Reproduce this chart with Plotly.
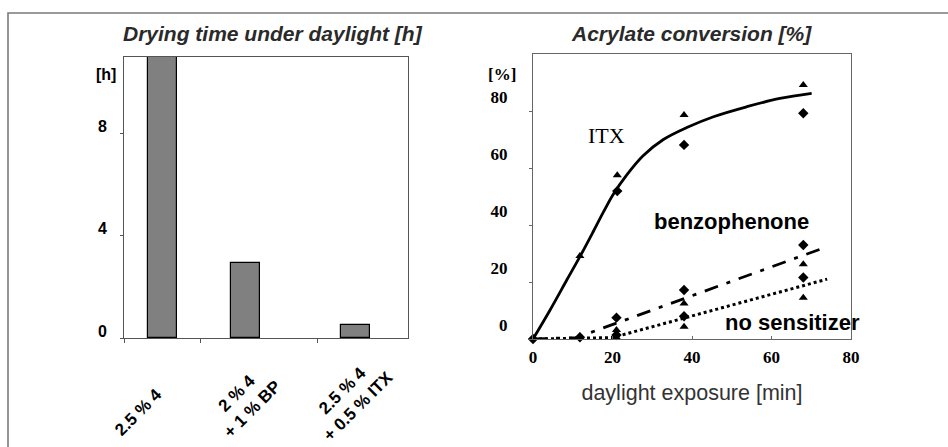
import plotly.graph_objects as go

# ---------------- data ----------------
# left: drying time under daylight [h]
bar_labels = ["2.5 % 4", "2 % 4<br>+ 1 % BP", "2.5 % 4<br>+ 0.5 % ITX"]
bar_pos = [1.36, 4.28, 8.15]
bar_hours = [11.0, 2.95, 0.5]
label_pos = [0.49, 4.23, 7.96]
label_ypx = [412, 401, 398]
left_yticks = [0, 4, 8]

# right: acrylate conversion [%]
itx_x_tri = [11.8, 21.2, 38, 68]
itx_y_tri = [29.1, 57.5, 78.6, 89.1]
itx_x_dia = [0, 21.2, 38, 68]
itx_y_dia = [0, 51.9, 68.1, 79.2]
itx_fit_x = [0, 4.3, 8.5, 11.8, 15.2, 17.7, 20.2, 23.6, 27.7, 32.8, 38.7, 45.4, 53.8, 62.1, 70.1]
itx_fit_y = [0, 10.2, 20.7, 28.9, 37.8, 44.5, 50.8, 57.6, 64.3, 70.0, 74.2, 78, 81.5, 84.4, 86.2]

bp_x_dia = [21, 38, 68]
bp_y_dia = [7.5, 17.2, 33]
bp_x_tri = [11.8, 21, 38, 68]
bp_y_tri = [1, 3.2, 12.5, 26.2]
bp_fit_x = [0, 11, 74]
bp_fit_y = [0, 0.5, 32.4]

ns_x_dia = [11.8, 21, 38, 68]
ns_y_dia = [0.6, 1.4, 8, 21.6]
ns_x_tri = [21, 38, 68]
ns_y_tri = [0.5, 4.3, 14.5]
ns_fit_x = [0, 20, 74]
ns_fit_y = [0, 0.5, 21]

right_xticks = [0, 20, 40, 60, 80]
right_yticks = [0, 20, 40, 60, 80]

# ---------------- figure ----------------
W, H = 948, 447
fig = go.Figure()

fig.add_trace(go.Bar(
    x=bar_pos, y=bar_hours, width=1.02,
    marker=dict(color="#808080", line=dict(color="#000000", width=1.2)),
    xaxis="x", yaxis="y", showlegend=False,
))

def scatter(x, y, sym, **kw):
    fig.add_trace(go.Scatter(
        x=x, y=y, mode="markers",
        marker=dict(symbol=sym, size=8, color="#000000"),
        xaxis="x2", yaxis="y2", showlegend=False, cliponaxis=False, **kw))

def line(x, y, dash, width, shape="linear"):
    fig.add_trace(go.Scatter(
        x=x, y=y, mode="lines",
        line=dict(color="#000000", width=width, dash=dash, shape=shape, smoothing=1.0),
        xaxis="x2", yaxis="y2", showlegend=False))

line(itx_fit_x, itx_fit_y, "solid", 2.8, "spline")
line(bp_fit_x, bp_fit_y, "14px,9px,4px,9px", 2.8)
line(ns_fit_x, ns_fit_y, "3px,3px", 3)
scatter(itx_x_tri, itx_y_tri, "triangle-up")
scatter(itx_x_dia, itx_y_dia, "diamond")
scatter(bp_x_tri, bp_y_tri, "triangle-up")
scatter(bp_x_dia, bp_y_dia, "diamond")
scatter(ns_x_tri, ns_y_tri, "triangle-up")
scatter(ns_x_dia, ns_y_dia, "diamond")

def px_x(p):
    return p / W

def px_y(p):
    return 1 - p / H

sans = "Liberation Sans, Arial, sans-serif"
serif = "Liberation Serif, Times New Roman, serif"

def note(text, x, y, family, size, color="#000000"):
    return dict(text=text, x=px_x(x), y=px_y(y), xref="paper", yref="paper",
                xanchor="center", yanchor="middle", showarrow=False,
                font=dict(family=family, size=size, color=color))

annotations = [
    note("<b><i>Drying time under daylight [h]</i></b>", 273, 33, sans, 21, "#2a2a2a"),
    note("<b><i>Acrylate conversion [%]</i></b>", 691, 33, sans, 21, "#2a2a2a"),
    note("<b>[h]</b>", 106, 74, sans, 16),
    note("<b>[%]</b>", 502, 74, serif, 17),
    note("ITX", 606, 136, serif, 22),
    note("<b>benzophenone</b>", 731, 221, sans, 22),
    note("<b>no sensitizer</b>", 792, 322, sans, 22),
]
# rotated category labels under the bar chart
for lab, lx, ly in zip(bar_labels, label_pos, label_ypx):
    annotations.append(dict(
        text="<b>" + lab + "</b>", x=lx, xref="x", y=px_y(ly), yref="paper",
        xanchor="center", yanchor="middle", showarrow=False, textangle=-45,
        align="center", font=dict(family=sans, size=17, color="#000000")))

fig.update_layout(
    width=W, height=H,
    margin=dict(l=0, r=0, t=0, b=0, autoexpand=False),
    paper_bgcolor="white", plot_bgcolor="white",
    bargap=0,
    xaxis=dict(
        domain=[px_x(124), px_x(408)], anchor="y", automargin=False,
        range=[0, 10], showgrid=False, zeroline=False,
        showline=True, mirror=True, linecolor="#555555", linewidth=1,
        showticklabels=False, ticks="",
        minor=dict(tickmode="array", tickvals=[0, 2.68, 6.83],
                   ticks="outside", ticklen=4, tickcolor="#555555"),
        fixedrange=True,
    ),
    yaxis=dict(
        domain=[px_y(338), px_y(57)], anchor="x", automargin=False,
        range=[0, 11], showgrid=False, zeroline=False,
        showline=True, mirror=True, linecolor="#555555", linewidth=1,
        tickmode="array", tickvals=left_yticks,
        ticks="outside", ticklen=3, tickcolor="#555555",
        ticklabelshift=-7, ticklabelstandoff=10,
        tickfont=dict(family=sans, size=16, color="#000000", weight="bold"),
        fixedrange=True,
    ),
    xaxis2=dict(
        domain=[px_x(533), px_x(851)], anchor="y2", automargin=False,
        range=[0, 80], showgrid=False, zeroline=False,
        showline=True, mirror=True, linecolor="#666666", linewidth=1,
        tickmode="array", tickvals=right_xticks,
        ticks="inside", ticklen=3, tickcolor="#666666",
        ticklabelstandoff=3,
        tickfont=dict(family=serif, size=17, color="#000000", weight="bold"),
        title=dict(text="daylight exposure [min]", standoff=18,
                   font=dict(family=sans, size=21.5, color="#333333")),
        fixedrange=True,
    ),
    yaxis2=dict(
        domain=[px_y(339), px_y(54)], anchor="x2", automargin=False,
        range=[0, 100], showgrid=False, zeroline=False,
        showline=True, mirror=True, linecolor="#666666", linewidth=1,
        tickmode="array", tickvals=right_yticks,
        ticks="outside", ticklen=3, tickcolor="#666666",
        ticklabelshift=-14, ticklabelstandoff=18,
        tickfont=dict(family=serif, size=17, color="#000000", weight="bold"),
        fixedrange=True,
    ),
    shapes=[dict(type="rect", xref="paper", yref="paper",
                 x0=px_x(8), x1=1.05, y0=-0.05, y1=px_y(13),
                 line=dict(color="#7a7a7a", width=1.6))],
    annotations=annotations,
)

fig.write_html("out.html", config={"displayModeBar": False},
               post_script="document.body.style.margin='0px';")
